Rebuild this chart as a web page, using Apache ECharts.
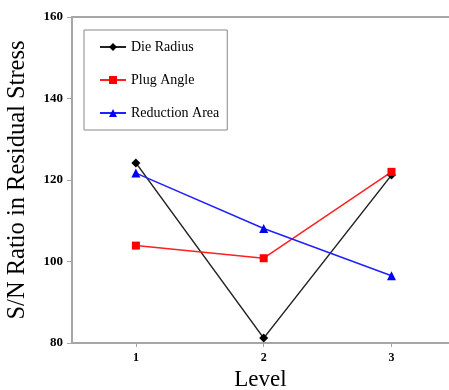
<!DOCTYPE html>
<html>
<head>
<meta charset="utf-8">
<script src="https://cdn.jsdelivr.net/npm/echarts@6/dist/echarts.min.js"></script>
<style>
  html, body { margin: 0; padding: 0; background: #fff; }
  #chart { width: 449px; height: 390px; }
</style>
</head>
<body>
<div id="chart"></div>
<script>
var levels = [1, 2, 3];
var dieRadius = [124.2, 81.2, 121.2];
var plugAngle = [103.9, 100.8, 122.0];
var reductionArea = [121.7, 108.1, 96.5];

function pairs(vals) {
    return vals.map(function (v, i) { return [levels[i], v]; });
}

var serif = '"Liberation Serif", "Times New Roman", serif';
var axisGray = '#a6a6a6';

var myChart = echarts.init(document.getElementById('chart'));
var option = {
    animation: false,
    grid: { left: 72, top: 17, right: 0, bottom: 47, outerBoundsMode: 'none', containLabel: false },
    legend: {
        orient: 'vertical',
        left: 84,
        top: 30,
        padding: [10, 8, 10, 15],
        itemGap: 19,
        itemWidth: 26,
        itemHeight: 10,
        borderColor: '#888',
        borderWidth: 1,
        textStyle: { fontFamily: serif, fontSize: 14, color: '#000' },
        data: ['Die Radius', 'Plug Angle', 'Reduction Area']
    },
    xAxis: [
        {
            type: 'value',
            min: 0.5,
            max: 3.45,
            name: 'Level',
            nameLocation: 'middle',
            nameGap: 22,
            nameTextStyle: { fontFamily: serif, fontSize: 23, color: '#000' },
            axisLine: { lineStyle: { color: axisGray, width: 2 } },
            axisTick: { show: true, customValues: levels, length: 4, lineStyle: { color: axisGray } },
            axisLabel: { customValues: levels, margin: 9, fontFamily: serif, fontWeight: 'bold', fontSize: 12, color: '#000' },
            splitLine: { show: false }
        },
        {
            type: 'value',
            position: 'top',
            min: 0.5,
            max: 3.45,
            axisLine: { show: true, lineStyle: { color: axisGray, width: 2 } },
            axisTick: { show: false },
            axisLabel: { show: false },
            splitLine: { show: false }
        }
    ],
    yAxis: {
        type: 'value',
        min: 80,
        max: 160,
        interval: 20,
        name: 'S/N Ratio in Residual Stress',
        nameLocation: 'middle',
        nameGap: 42,
        nameTextStyle: { fontFamily: serif, fontSize: 24.5, color: '#000' },
        axisLine: { show: true, lineStyle: { color: axisGray, width: 2 } },
        axisTick: { show: true, length: 5, lineStyle: { color: axisGray } },
        axisLabel: { margin: 9, fontFamily: serif, fontWeight: 'bold', fontSize: 13, color: '#000' },
        splitLine: { show: false }
    },
    series: [
        {
            name: 'Die Radius',
            type: 'line',
            data: pairs(dieRadius),
            symbol: 'diamond',
            symbolSize: 9,
            itemStyle: { color: '#000' },
            lineStyle: { color: '#222', width: 1.5 }
        },
        {
            name: 'Plug Angle',
            type: 'line',
            data: pairs(plugAngle),
            symbol: 'rect',
            symbolSize: 8,
            itemStyle: { color: '#ff0000' },
            lineStyle: { color: '#ff2020', width: 1.5 }
        },
        {
            name: 'Reduction Area',
            type: 'line',
            data: pairs(reductionArea),
            symbol: 'triangle',
            symbolSize: 9,
            itemStyle: { color: '#0000ff' },
            lineStyle: { color: '#2020ff', width: 1.5 }
        }
    ]
};
myChart.setOption(option);
</script>
</body>
</html>
